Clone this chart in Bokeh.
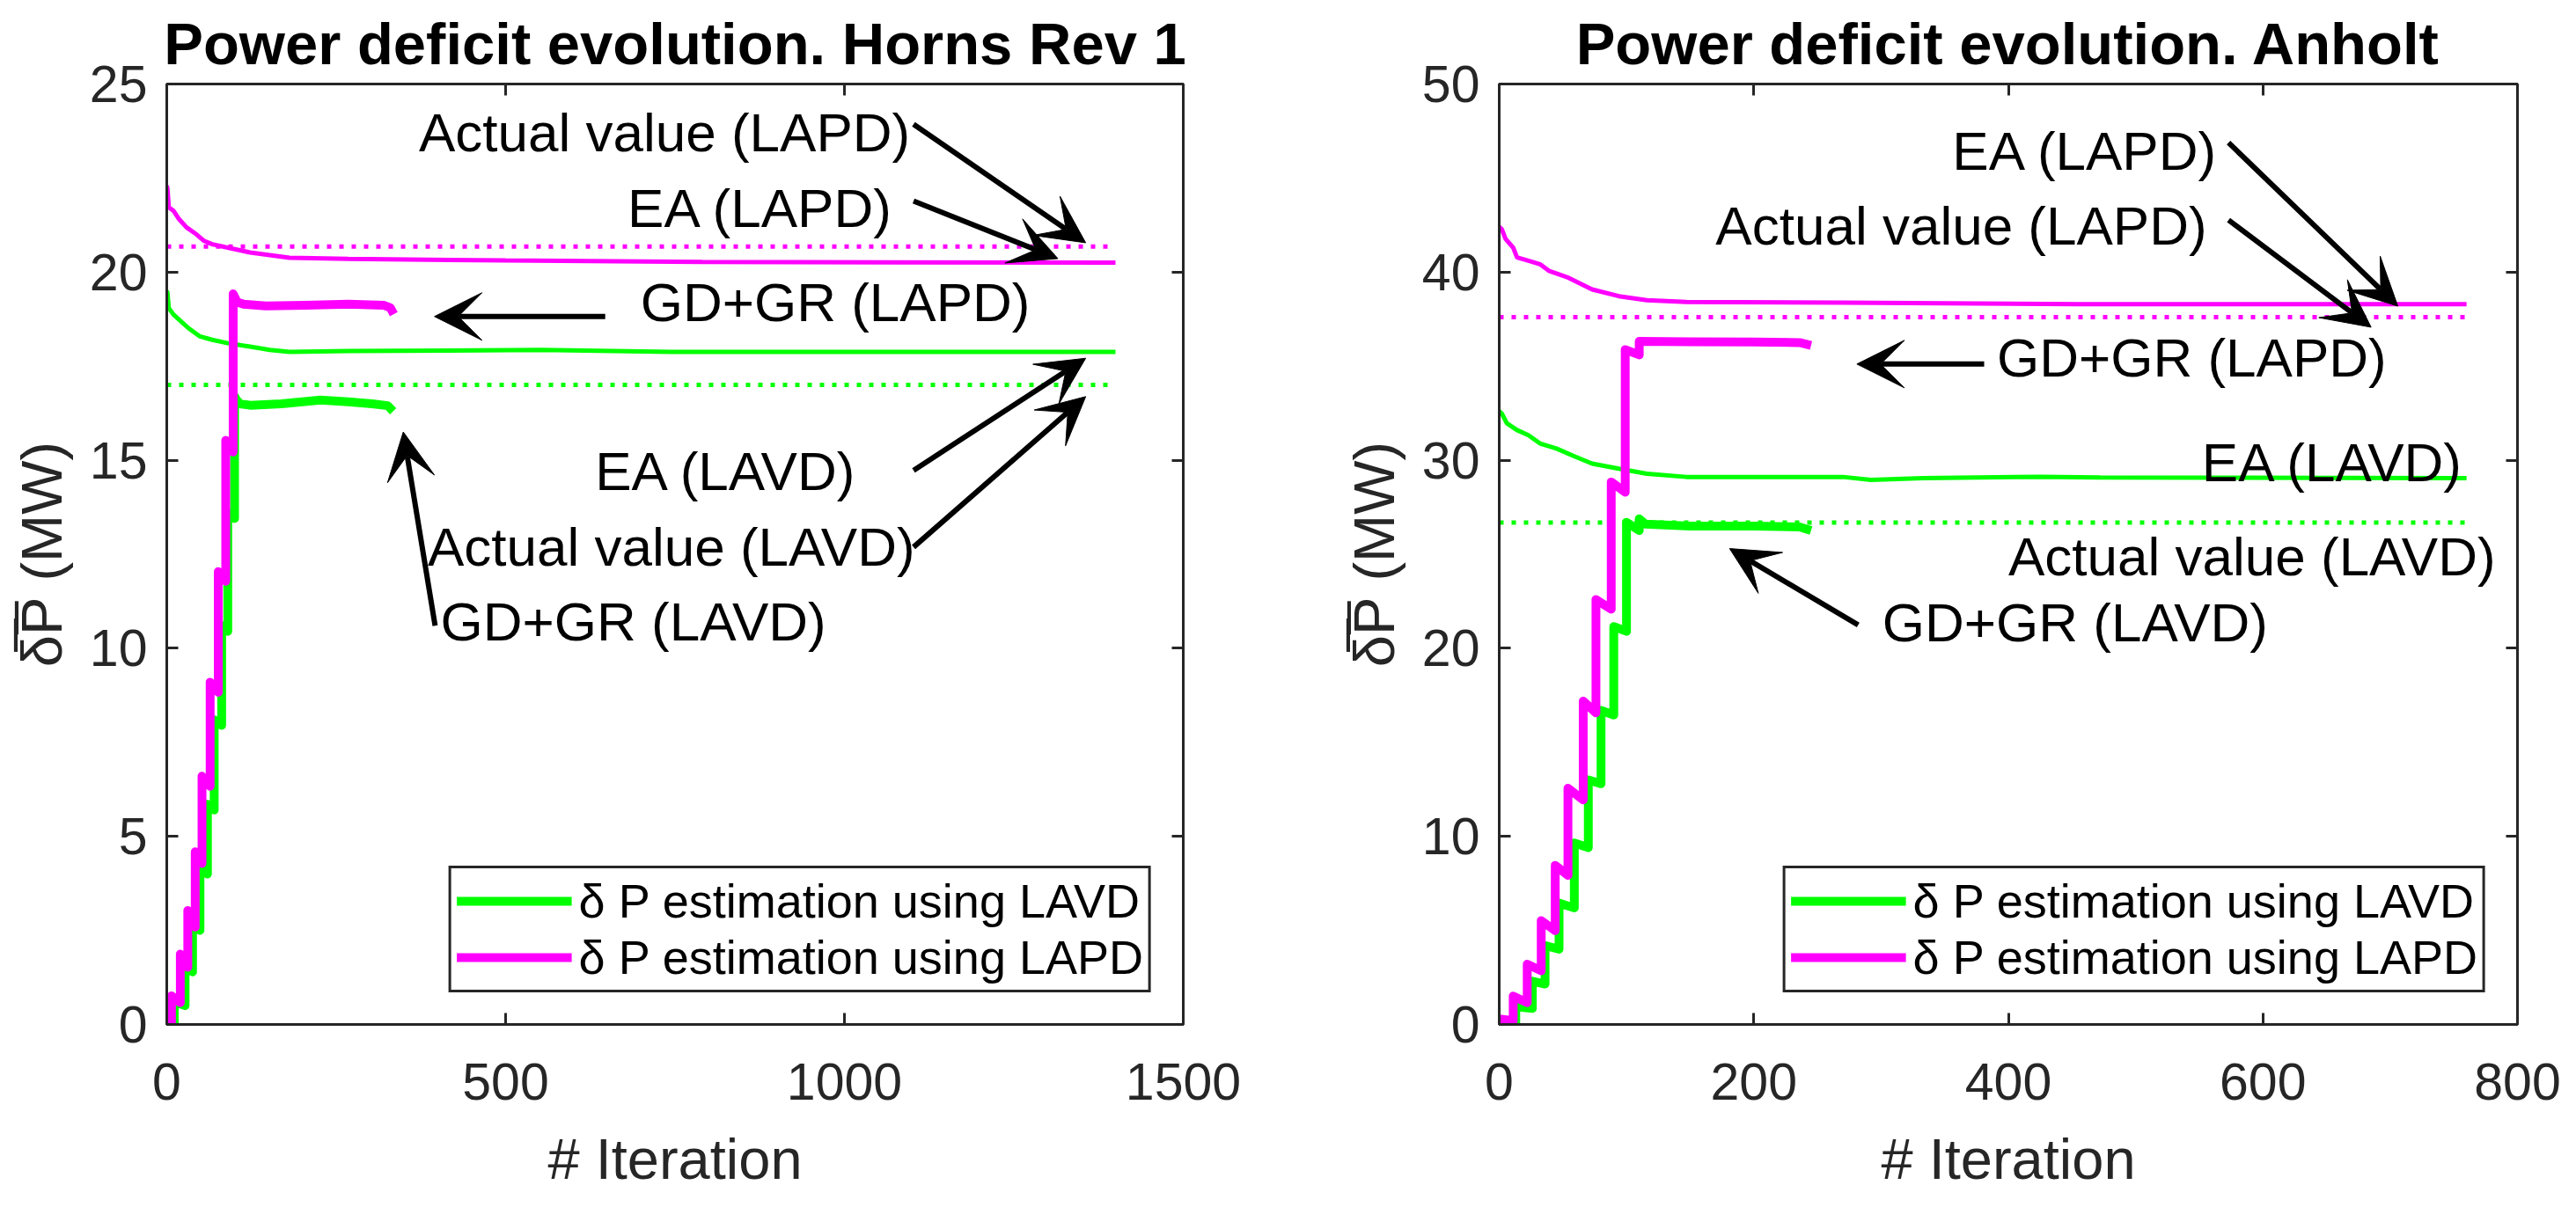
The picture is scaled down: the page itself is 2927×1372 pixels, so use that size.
from bokeh.plotting import figure
from bokeh.models import (Range1d, FixedTicker, LinearAxis, Legend, LegendItem,
                          Arrow, VeeHead, ColumnDataSource)
from bokeh.layouts import row
from bokeh.embed import file_html
from bokeh.resources import INLINE
from bokeh.core.properties import value

# ---------------- Horns Rev 1 ----------------
hr_title = "Power deficit evolution. Horns Rev 1"
hr_xmax, hr_ymax = 1500, 25
hr_xticks = [0, 500, 1000, 1500]
hr_yticks = [0, 5, 10, 15, 20, 25]

hr_gd_lavd_x = [0, 11, 11, 27, 27, 38, 38, 49, 49, 60, 60, 70, 70, 81, 81, 90, 90, 100, 100,
                103, 108, 123, 169, 227, 268, 303, 326, 334]
hr_gd_lavd_y = [0, 0, 0.6, 0.5, 1.5, 1.4, 2.6, 2.5, 4.15, 4.0, 5.85, 5.7, 8.1, 7.95, 10.6, 10.45,
                13.6, 13.45, 16.7, 16.6, 16.5, 16.46, 16.5, 16.6, 16.55, 16.5, 16.45, 16.3]
hr_gd_lapd_x = [0, 7, 7, 20, 20, 31, 31, 42, 42, 52, 52, 64, 64, 76, 76, 87, 87, 98, 98,
                104, 113, 146, 204, 268, 320, 330, 335]
hr_gd_lapd_y = [0, 0, 0.76, 0.58, 1.87, 1.52, 3.03, 2.59, 4.59, 4.28, 6.6, 6.33, 9.1, 8.83,
                12.04, 11.78, 15.53, 15.22, 19.42, 19.2, 19.15, 19.1, 19.12, 19.15, 19.12, 19.05, 18.88]
hr_ea_lapd_x = [0, 1, 3, 10, 18, 29, 44, 55, 67, 90, 123, 152, 181, 268, 500, 790, 1400]
hr_ea_lapd_y = [22.3, 22.21, 21.72, 21.63, 21.41, 21.19, 21.0, 20.83, 20.74, 20.65, 20.52,
                20.45, 20.38, 20.35, 20.31, 20.27, 20.25]
hr_ea_lavd_x = [0, 1, 3, 10, 21, 32, 49, 67, 90, 123, 152, 181, 268, 553, 744, 1400]
hr_ea_lavd_y = [19.5, 19.45, 19.04, 18.87, 18.69, 18.51, 18.29, 18.2, 18.11, 18.02, 17.93,
                17.88, 17.9, 17.93, 17.88, 17.88]
hr_actual_lapd = 20.68
hr_actual_lavd = 17.0
hr_actual_end = 1400

hr_note_text = ["Actual value (LAPD)", "EA (LAPD)", "GD+GR (LAPD)",
                "EA (LAVD)", "Actual value (LAVD)", "GD+GR (LAVD)"]
hr_note_x = [372, 680, 699, 632, 385, 404]
hr_note_y = [23.72, 21.7, 19.2, 14.7, 12.7, 10.7]
hr_arrow_x0 = [1102, 1102, 647, 1102, 1102, 396]
hr_arrow_y0 = [23.93, 21.89, 18.82, 14.73, 12.69, 10.6]
hr_arrow_x1 = [1356, 1315, 395, 1356, 1356, 349]
hr_arrow_y1 = [20.78, 20.36, 18.82, 17.71, 16.69, 15.75]

# ---------------- Anholt ----------------
an_title = "Power deficit evolution. Anholt"
an_xmax, an_ymax = 800, 50
an_xticks = [0, 200, 400, 600, 800]
an_yticks = [0, 10, 20, 30, 40, 50]

an_gd_lavd_x = [0, 13, 13, 26, 26, 36, 36, 47, 47, 59, 59, 70, 70, 80, 80, 90, 90, 100, 100,
                110, 110, 115, 150, 200, 236, 245]
an_gd_lavd_y = [0.15, 0.1, 0.95, 0.85, 2.3, 2.15, 4.2, 4.0, 6.45, 6.2, 9.65, 9.4, 13.0, 12.8,
                16.7, 16.45, 21.15, 20.9, 26.7, 26.26, 26.88, 26.6, 26.5, 26.5, 26.45, 26.26]
an_gd_lapd_x = [0, 11, 11, 22, 22, 33, 33, 44, 44, 54, 54, 66, 66, 76, 76, 88, 88, 99, 99,
                110, 110, 150, 200, 236, 245]
an_gd_lapd_y = [0.3, 0.2, 1.51, 1.16, 3.2, 2.85, 5.52, 4.99, 8.46, 7.93, 12.56, 11.94, 17.19,
                16.57, 22.59, 22.08, 28.84, 28.3, 35.88, 35.6, 36.32, 36.3, 36.28, 36.25, 36.1]
an_ea_lapd_x = [0, 2, 5, 11, 14, 23, 32, 39, 54, 73, 94, 116, 147, 270, 455, 760]
an_ea_lapd_y = [42.4, 42.29, 41.76, 41.3, 40.78, 40.6, 40.42, 40.07, 39.71, 39.08, 38.72,
                38.51, 38.41, 38.38, 38.3, 38.3]
an_ea_lavd_x = [0, 2, 6, 14, 23, 32, 45, 60, 73, 94, 116, 147, 270, 292, 333, 425, 472, 760]
an_ea_lavd_y = [32.6, 32.49, 31.96, 31.6, 31.33, 30.89, 30.62, 30.18, 29.82, 29.55, 29.28,
                29.11, 29.11, 28.95, 29.05, 29.12, 29.08, 29.05]
an_actual_lapd = 37.6
an_actual_lavd = 26.68
an_actual_end = 760

an_note_text = ["EA (LAPD)", "Actual value (LAPD)", "GD+GR (LAPD)",
                "EA (LAVD)", "Actual value (LAVD)", "GD+GR (LAVD)"]
an_note_x = [356, 170, 391, 552, 400, 301]
an_note_y = [46.45, 42.48, 35.45, 29.88, 24.9, 21.36]
an_arrow_x0 = [573, 573, 381, 282]
an_arrow_y0 = [46.88, 42.77, 35.11, 21.24]
an_arrow_x1 = [706, 685, 281, 181]
an_arrow_y1 = [38.19, 37.07, 35.11, 25.3]

legend_labels = ["\u03b4 P estimation using LAVD", "\u03b4 P estimation using LAPD"]
x_label = "# Iteration"
y_label = "\u03b4\u0305P\u0305 (MW)"

GREEN = "#00FF00"
MAGENTA = "#FF00FF"
AXC = "#262626"
FONT = "Liberation Sans"


def panel(title, xmax, ymax, xticks, yticks, gd_lavd, gd_lapd, ea_lavd, ea_lapd,
          act_lavd, act_lapd, act_end, notes, arrows, width, bl, br):
    p = figure(width=width, height=1356, output_backend="svg", toolbar_location=None,
               x_range=Range1d(0, xmax), y_range=Range1d(0, ymax),
               min_border_left=bl, min_border_right=br, min_border_top=92,
               min_border_bottom=190)
    p.background_fill_color = "white"
    p.border_fill_color = "white"
    p.xgrid.visible = False
    p.ygrid.visible = False
    p.outline_line_color = AXC
    p.outline_line_width = 3
    p.outline_line_alpha = 1

    p.title.text = title
    p.title.align = "center"
    p.title.text_font = FONT
    p.title.text_font_size = "67px"
    p.title.text_font_style = "bold"
    p.title.text_color = "black"
    p.title.standoff = 18

    for ax, ticks, lab in ((p.xaxis[0], xticks, x_label), (p.yaxis[0], yticks, y_label)):
        ax.ticker = FixedTicker(ticks=ticks)
        ax.major_tick_in = 13
        ax.major_tick_out = 0
        ax.minor_tick_line_color = None
        ax.major_tick_line_color = AXC
        ax.major_tick_line_width = 3
        ax.axis_line_color = AXC
        ax.axis_line_width = 3
        ax.major_label_text_font = FONT
        ax.major_label_text_font_size = "59px"
        ax.major_label_text_color = AXC
        ax.axis_label = lab
        ax.axis_label_text_font = FONT
        ax.axis_label_text_font_size = "65px"
        ax.axis_label_text_font_style = "normal"
        ax.axis_label_text_color = AXC
    p.xaxis[0].major_label_standoff = 44
    p.xaxis[0].axis_label_standoff = 28
    p.yaxis[0].major_label_standoff = 22
    p.yaxis[0].axis_label_standoff = 15

    for loc, ticks in (("above", xticks), ("right", yticks)):
        ax = LinearAxis(ticker=FixedTicker(ticks=ticks),
                        major_label_overrides={t: "" for t in ticks},
                        major_label_text_font_size="1px", major_label_standoff=0,
                        major_tick_in=13, major_tick_out=0, minor_tick_line_color=None,
                        major_tick_line_color=AXC, major_tick_line_width=3,
                        axis_line_color=None)
        p.add_layout(ax, loc)

    # EA estimates (thin)
    p.line(ea_lapd[0], ea_lapd[1], line_color=MAGENTA, line_width=5)
    p.line(ea_lavd[0], ea_lavd[1], line_color=GREEN, line_width=5)
    # actual values (dotted)
    p.line([0, act_end], [act_lapd, act_lapd], line_color=MAGENTA, line_width=5,
           line_dash="5 9")
    p.line([0, act_end], [act_lavd, act_lavd], line_color=GREEN, line_width=5,
           line_dash="5 9")
    # GD+GR (thick)
    g = p.line(gd_lavd[0], gd_lavd[1], line_color=GREEN, line_width=10, line_join="round")
    m = p.line(gd_lapd[0], gd_lapd[1], line_color=MAGENTA, line_width=10, line_join="round")

    src = ColumnDataSource(dict(x=notes[1], y=notes[2], t=notes[0]))
    p.text(x="x", y="y", text="t", source=src, text_font=value(FONT),
           text_font_size="62px", text_align="left", text_baseline="alphabetic",
           text_color="black")

    for x0, y0, x1, y1 in zip(*arrows):
        p.add_layout(Arrow(end=VeeHead(size=54, fill_color="black", line_color="black",
                                       line_width=1),
                           x_start=x0, y_start=y0, x_end=x1, y_end=y1,
                           line_color="black", line_width=6))

    legend = Legend(items=[LegendItem(label=legend_labels[0], renderers=[g]),
                           LegendItem(label=legend_labels[1], renderers=[m])],
                    location="bottom_right", margin=36,
                    border_line_color=AXC, border_line_width=3, border_line_alpha=1,
                    background_fill_color="white", background_fill_alpha=1,
                    label_text_font=FONT, label_text_font_size="54px",
                    label_text_color="black",
                    glyph_width=131, glyph_height=60, label_height=60,
                    padding=6, spacing=2, label_standoff=8)
    p.add_layout(legend)
    return p


p1 = panel(hr_title, hr_xmax, hr_ymax, hr_xticks, hr_yticks,
           (hr_gd_lavd_x, hr_gd_lavd_y), (hr_gd_lapd_x, hr_gd_lapd_y),
           (hr_ea_lavd_x, hr_ea_lavd_y), (hr_ea_lapd_x, hr_ea_lapd_y),
           hr_actual_lavd, hr_actual_lapd, hr_actual_end,
           (hr_note_text, hr_note_x, hr_note_y),
           (hr_arrow_x0, hr_arrow_y0, hr_arrow_x1, hr_arrow_y1),
           1450, 189, 106)
p2 = panel(an_title, an_xmax, an_ymax, an_xticks, an_yticks,
           (an_gd_lavd_x, an_gd_lavd_y), (an_gd_lapd_x, an_gd_lapd_y),
           (an_ea_lavd_x, an_ea_lavd_y), (an_ea_lapd_x, an_ea_lapd_y),
           an_actual_lavd, an_actual_lapd, an_actual_end,
           (an_note_text, an_note_x, an_note_y),
           (an_arrow_x0, an_arrow_y0, an_arrow_x1, an_arrow_y1),
           1461, 253, 51)

layout = row(p1, p2)
open("out.html", "w").write(file_html(layout, INLINE))
